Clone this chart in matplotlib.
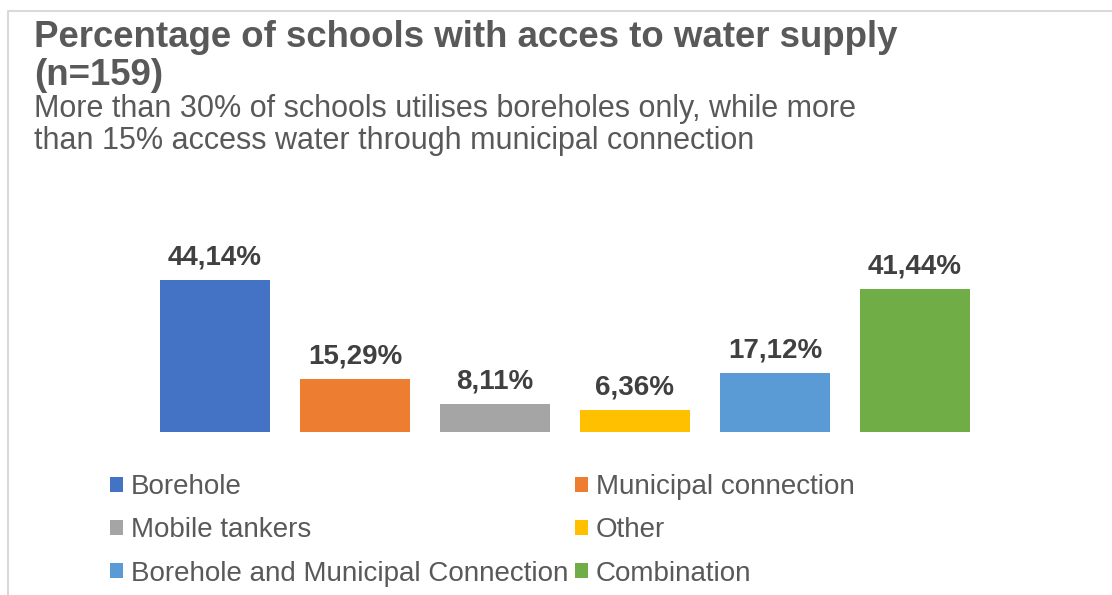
import matplotlib.pyplot as plt
from matplotlib.lines import Line2D
from matplotlib.patches import Patch

# data
categories = ['Borehole', 'Municipal connection', 'Mobile tankers', 'Other',
              'Borehole and Municipal Connection', 'Combination']
values = [44.14, 15.29, 8.11, 6.36, 17.12, 41.44]
colors = ['#4472C4', '#ED7D31', '#A5A5A5', '#FFC000', '#5B9BD5', '#70AD47']

title = 'Percentage of schools with acces to water supply\n(n=159)'
subtitle = ('More than 30% of schools utilises boreholes only, while more\n'
            'than 15% access water through municipal connection')

plt.rcParams['font.family'] = ['Liberation Sans', 'DejaVu Sans']

W, H = 1112, 595
fig = plt.figure(figsize=(W / 100, H / 100), dpi=100)


def fx(px):
    return px / W


def fy(py):
    return 1 - py / H


# chart frame (only top and left edges are visible in the crop)
fig.add_artist(Line2D([fx(8), fx(8), 1.0], [0.0, fy(11), fy(11)],
                      transform=fig.transFigure, color='#D9D9D9', lw=1.5))

fig.text(fx(34), fy(20), title, fontsize=26.4, fontweight='bold',
         color='#595959', va='top', ha='left', linespacing=1.1)
fig.text(fx(34), fy(94), subtitle, fontsize=22, color='#595959',
         va='top', ha='left', linespacing=1.1)

ax = fig.add_axes([fx(145), fy(432), fx(985) - fx(145), 172 / H])
x = range(len(values))
bars = ax.bar(x, values, width=0.79, color=colors)
ax.set_xlim(-0.5, len(values) - 0.5)
ax.set_ylim(0, 50)
ax.axis('off')

for xi, v in zip(x, values):
    label = f'{v:.2f}'.replace('.', ',') + '%'
    ax.annotate(label, (xi, v), xytext=(0, 7), textcoords='offset points',
                ha='center', va='bottom', fontsize=20, fontweight='bold',
                color='#404040', annotation_clip=False)

# legend is filled column by column, so reorder to get row-wise layout
order = [0, 2, 4, 1, 3, 5]
handles = [Patch(facecolor=colors[i], edgecolor='none') for i in order]
labels = [categories[i] for i in order]
fig.legend(handles, labels, ncol=2, loc='upper left',
           bbox_to_anchor=(fx(99), fy(463)), frameon=False,
           fontsize=20, labelcolor='#595959', handlelength=0.45,
           handleheight=0.45, handletextpad=0.3, columnspacing=0.25,
           labelspacing=0.62, borderaxespad=0)

fig.savefig('out.png', dpi=100)
